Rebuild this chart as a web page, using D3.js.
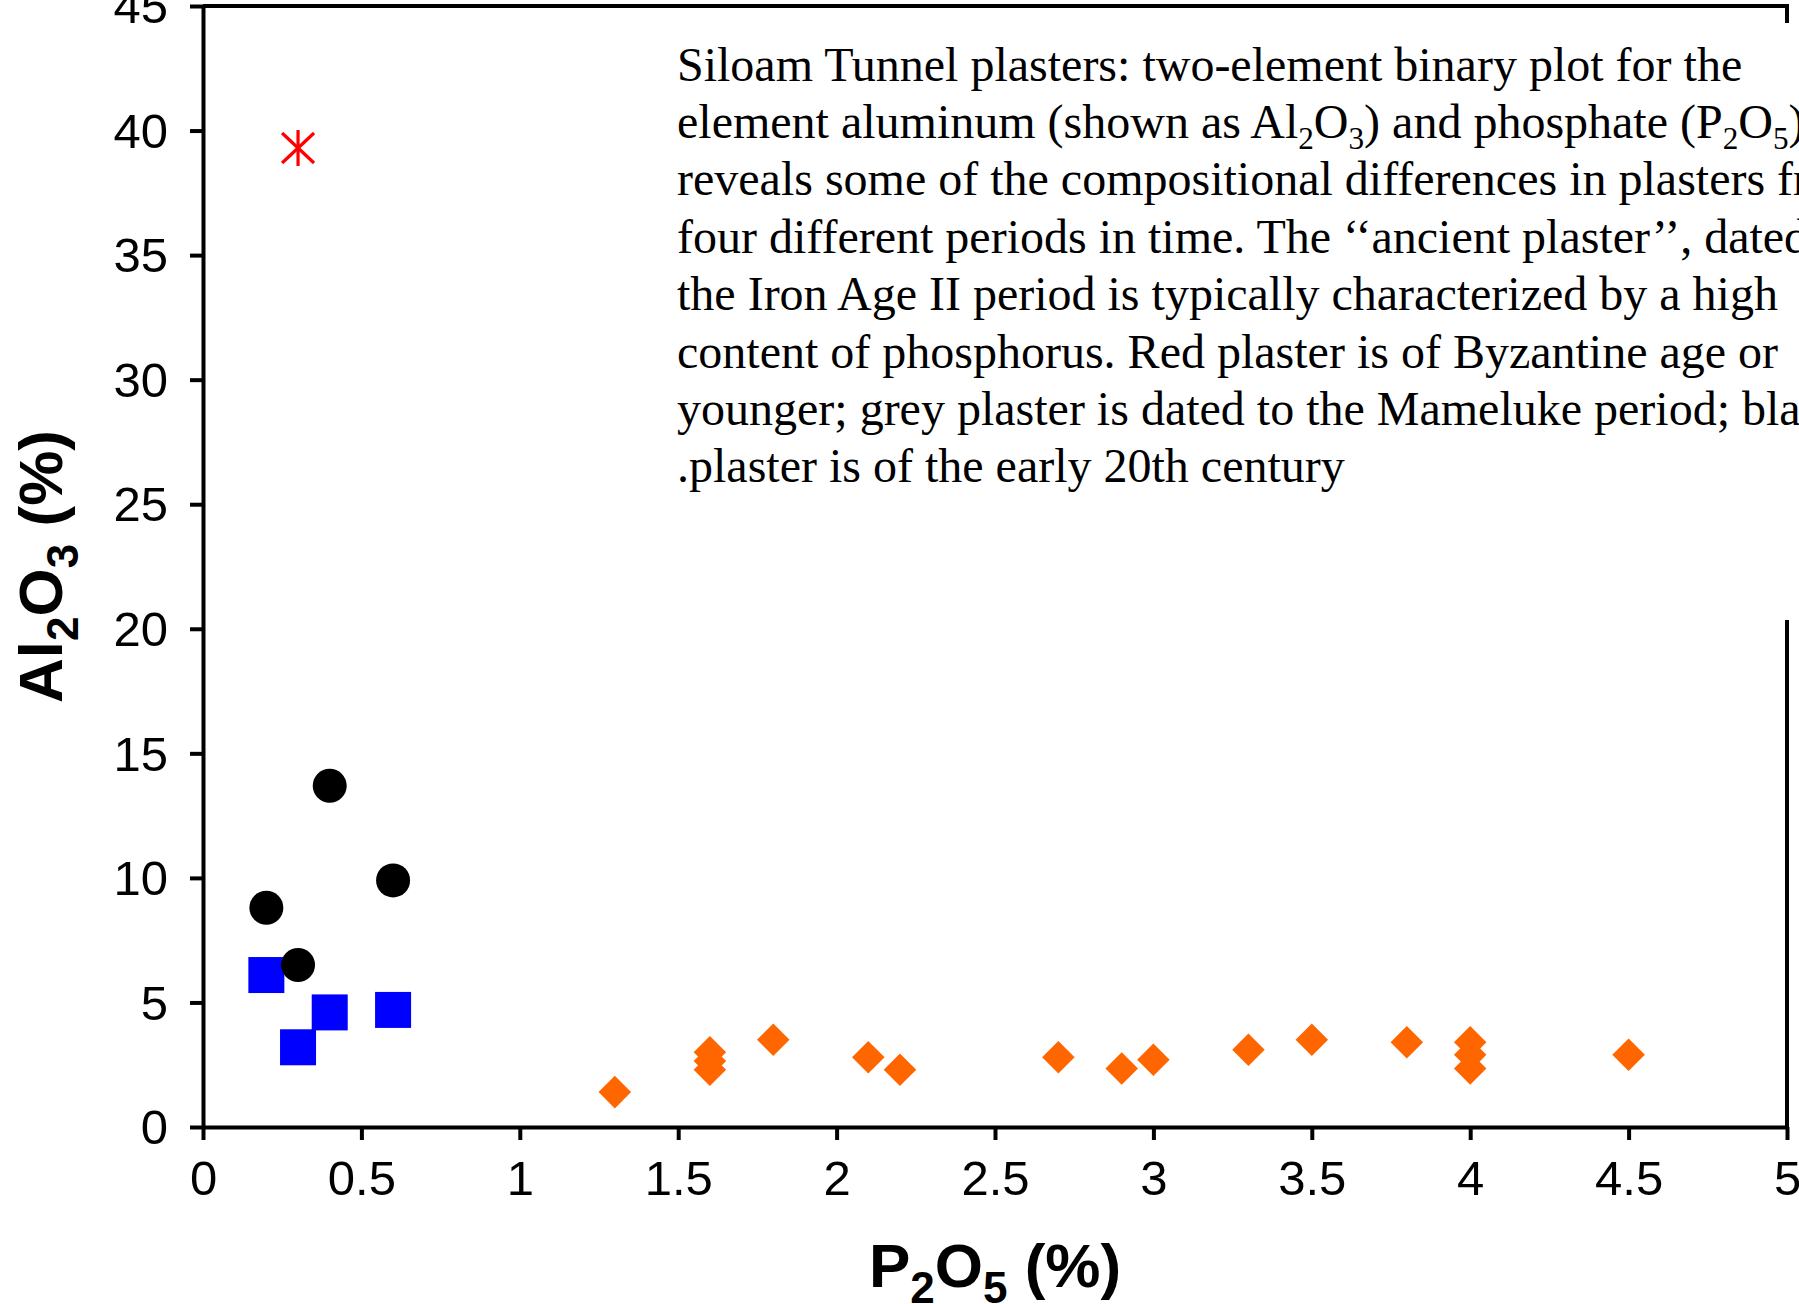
<!DOCTYPE html>
<html>
<head>
<meta charset="utf-8">
<script src="https://cdn.jsdelivr.net/npm/d3@7"></script>
<style>
  html, body { margin: 0; padding: 0; background: #fff; }
  svg { display: block; }
</style>
</head>
<body>
<div id="chart"></div>
<script>
// ---- data ----
const blackX = [0.2, 0.3, 0.4, 0.6];
const blackY = [8.8, 6.5, 13.7, 9.9];
const blueX = [0.2, 0.3, 0.4, 0.6];
const blueY = [6.1, 3.2, 4.6, 4.7];
const redX = [0.3];
const redY = [39.3];
const orangeX = [1.3, 1.6, 1.6, 1.6, 1.8, 2.1, 2.2, 2.7, 2.9, 3.0, 3.3, 3.5, 3.8, 4.0, 4.0, 4.0, 4.5];
const orangeY = [1.4, 3.0, 2.65, 2.3, 3.5, 2.8, 2.3, 2.8, 2.35, 2.7, 3.1, 3.5, 3.4, 3.4, 2.9, 2.35, 2.9];
const xTicks = [0, 0.5, 1, 1.5, 2, 2.5, 3, 3.5, 4, 4.5, 5];
const yTicks = [0, 5, 10, 15, 20, 25, 30, 35, 40, 45];
const captionLines = [
  [["Siloam Tunnel plasters: two-element binary plot for the", 0]],
  [["element aluminum (shown as Al", 0], ["2", 1], ["O", 0], ["3", 1], [") and phosphate (P", 0], ["2", 1], ["O", 0], ["5", 1], [")", 0]],
  [["reveals some of the compositional differences in plasters from", 0]],
  [["four different periods in time. The \u2018\u2018ancient plaster\u2019\u2019, dated to", 0]],
  [["the Iron Age II period is typically characterized by a high", 0]],
  [["content of phosphorus. Red plaster is of Byzantine age or", 0]],
  [["younger; grey plaster is dated to the Mameluke period; black", 0]],
  [[".plaster is of the early 20th century", 0]]
];

// ---- layout ----
const W = 1799, H = 1304;
const m = { left: 203, top: 6, right: W - 1787, bottom: H - 1127 };
const iw = W - m.left - m.right, ih = H - m.top - m.bottom;

const svg = d3.select("#chart").append("svg")
  .attr("width", W).attr("height", H);

const x = d3.scaleLinear().domain([0, 5]).range([m.left, m.left + iw]);
const y = d3.scaleLinear().domain([0, 45]).range([m.top + ih, m.top]);

// frame: top and right spines
svg.append("line").attr("x1", x(0)).attr("x2", x(5) + 2).attr("y1", y(45)).attr("y2", y(45))
  .attr("stroke", "#000").attr("stroke-width", 4);
svg.append("line").attr("x1", x(5)).attr("x2", x(5)).attr("y1", y(45)).attr("y2", y(0))
  .attr("stroke", "#000").attr("stroke-width", 4);

// axes
const fmt = d => String(d);
const xAxis = svg.append("g").attr("transform", `translate(0,${y(0)})`)
  .call(d3.axisBottom(x).tickValues(xTicks).tickFormat(fmt).tickSize(13).tickSizeOuter(0).tickPadding(20));
const yAxis = svg.append("g").attr("transform", `translate(${x(0)},0)`)
  .call(d3.axisLeft(y).tickValues(yTicks).tickFormat(fmt).tickSize(13).tickSizeOuter(0).tickPadding(22));
[xAxis, yAxis].forEach(g => {
  g.selectAll("path.domain").attr("stroke", "#000").attr("stroke-width", 4);
  g.selectAll(".tick line").attr("stroke", "#000").attr("stroke-width", 4);
  g.selectAll(".tick text").attr("fill", "#000")
    .style("font-family", "'Liberation Sans', Arial, sans-serif").style("font-size", "49px");
});
yAxis.selectAll(".tick text").attr("dy", "0.34em");
xAxis.selectAll(".tick text").attr("dy", "0.72em");

// axis titles
const boldFont = "'Liberation Sans', Arial, sans-serif";
const xt = svg.append("text").attr("x", (x(0) + x(5)) / 2).attr("y", 1287)
  .attr("text-anchor", "middle").style("font-family", boldFont).style("font-size", "62px")
  .style("font-weight", "bold").attr("fill", "#000");
xt.append("tspan").text("P");
xt.append("tspan").text("2").attr("dy", 16).style("font-size", "44px");
xt.append("tspan").text("O").attr("dy", -16);
xt.append("tspan").text("5").attr("dy", 16).style("font-size", "44px");
xt.append("tspan").text(" (%)").attr("dy", -16);

const yt = svg.append("text")
  .attr("transform", `translate(62,${(y(0) + y(45)) / 2}) rotate(-90)`)
  .attr("text-anchor", "middle").style("font-family", boldFont).style("font-size", "62px")
  .style("font-weight", "bold").attr("fill", "#000");
yt.append("tspan").text("Al");
yt.append("tspan").text("2").attr("dy", 16).style("font-size", "44px");
yt.append("tspan").text("O").attr("dy", -16);
yt.append("tspan").text("3").attr("dy", 16).style("font-size", "44px");
yt.append("tspan").text(" (%)").attr("dy", -16);

// caption box (white background covering right spine)
svg.append("rect").attr("x", 660).attr("y", 23).attr("width", W - 660).attr("height", 620 - 23)
  .attr("fill", "#fff");
const capFont = "'Liberation Serif', 'Times New Roman', serif";
const capSize = 48;
captionLines.forEach((parts, i) => {
  const t = svg.append("text").attr("x", 677).attr("y", 80.5 + i * 57.4)
    .style("font-family", capFont).style("font-size", capSize + "px").attr("fill", "#000");
  let sub = false;
  parts.forEach(([s, isSub]) => {
    const ts = t.append("tspan").text(s);
    if (isSub && !sub) { ts.attr("dy", 11).style("font-size", (capSize * 0.65) + "px"); sub = true; }
    else if (isSub && sub) { ts.style("font-size", (capSize * 0.65) + "px"); }
    else if (!isSub && sub) { ts.attr("dy", -11); sub = false; }
  });
});

// ---- marks ----
const plot = svg.append("g");
// orange diamonds
plot.selectAll("path.dia").data(orangeX.map((v, i) => [v, orangeY[i]])).enter()
  .append("path").attr("class", "dia")
  .attr("d", d3.symbol().type(d3.symbolSquare).size(23 * 23))
  .attr("transform", d => `translate(${x(d[0])},${y(d[1])}) rotate(45)`)
  .attr("fill", "#ff6600");
// blue squares
plot.selectAll("rect.sq").data(blueX.map((v, i) => [v, blueY[i]])).enter()
  .append("rect").attr("class", "sq")
  .attr("x", d => x(d[0]) - 18).attr("y", d => y(d[1]) - 18)
  .attr("width", 36).attr("height", 36).attr("fill", "#0000ff");
// black circles
plot.selectAll("circle.bc").data(blackX.map((v, i) => [v, blackY[i]])).enter()
  .append("circle").attr("class", "bc")
  .attr("cx", d => x(d[0])).attr("cy", d => y(d[1])).attr("r", 17).attr("fill", "#000");
// red asterisk
const ast = plot.selectAll("g.ast").data(redX.map((v, i) => [v, redY[i]])).enter()
  .append("g").attr("class", "ast")
  .attr("transform", d => `translate(${x(d[0])},${y(d[1])})`)
  .attr("stroke", "#ff0000").attr("stroke-width", 3.2);
ast.append("line").attr("x1", 0).attr("x2", 0).attr("y1", -18).attr("y2", 18);
ast.append("line").attr("x1", -16).attr("x2", 16).attr("y1", -15).attr("y2", 15);
ast.append("line").attr("x1", -16).attr("x2", 16).attr("y1", 15).attr("y2", -15);
</script>
</body>
</html>
